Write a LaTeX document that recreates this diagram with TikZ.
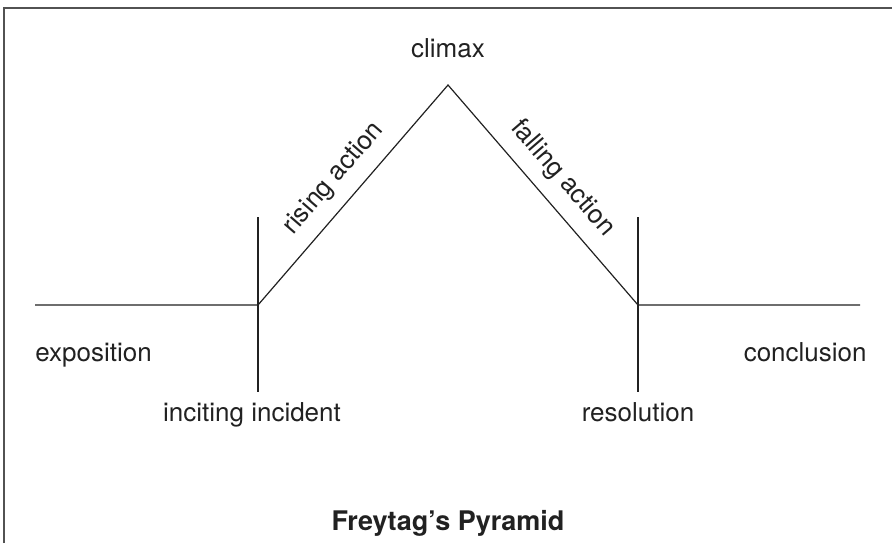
\documentclass[tikz,border=0pt]{standalone}
\usepackage{fontspec}
\setsansfont{TeX Gyre Heros}
\usetikzlibrary{positioning}
\definecolor{InkGray}{rgb}{0.13, 0.13, 0.13}
\definecolor{FrameGray}{rgb}{0.32, 0.32, 0.32}
\newcommand{\lbl}{\fontsize{13}{15}\selectfont}

\begin{document}
\begin{tikzpicture}[
    x=0.5pt, y=-0.5pt,
    font=\sffamily\lbl, text=InkGray,
    plotline/.style={draw=InkGray, line width=0.6pt},
    frame/.style={draw=FrameGray, line width=1.1pt},
    tag/.style={inner sep=0pt, anchor=base}
]
\useasboundingbox (0,0) rectangle (892,543);

% frame, top and left only
\coordinate (fbl) at (4,543);
\coordinate (ftl) at (4,8);
\coordinate (ftr) at (892,8);
\draw[frame] (fbl) -- (ftl) -- (ftr);

% the pyramid
\coordinate (start) at (35,305);
\coordinate (incite) at (258,305);
\coordinate (peak) at (448,85);
\coordinate (resol) at (638,305);
\coordinate (finish) at (860,305);
\coordinate (inciteTop) at (258,217);
\coordinate (inciteBot) at (258,392);
\coordinate (resolTop) at (638,217);
\coordinate (resolBot) at (638,392);

\draw[plotline] (start) -- (incite)
    -- node[sloped, above=3pt] (rise) {rising action} (peak)
    -- node[sloped, above=3pt] (fall) {falling action} (resol)
    -- (finish);
\draw[plotline] (inciteTop) -- (inciteBot);
\draw[plotline] (resolTop) -- (resolBot);

% labels
\node[tag] (climax) at (448,57) {climax};
\node[tag, anchor=base west] (expo) at (35,361) {exposition};
\node[tag, anchor=base east] (concl) at (867,361) {conclusion};
\node[tag] (inc) at (252,421) {inciting incident};
\node[tag] (res) at (638,421) {resolution};
\node[tag, font=\sffamily\bfseries\fontsize{13.5}{16}\selectfont] (title) at (448,530)
    {Freytag’s Pyramid};

\end{tikzpicture}
\end{document}
